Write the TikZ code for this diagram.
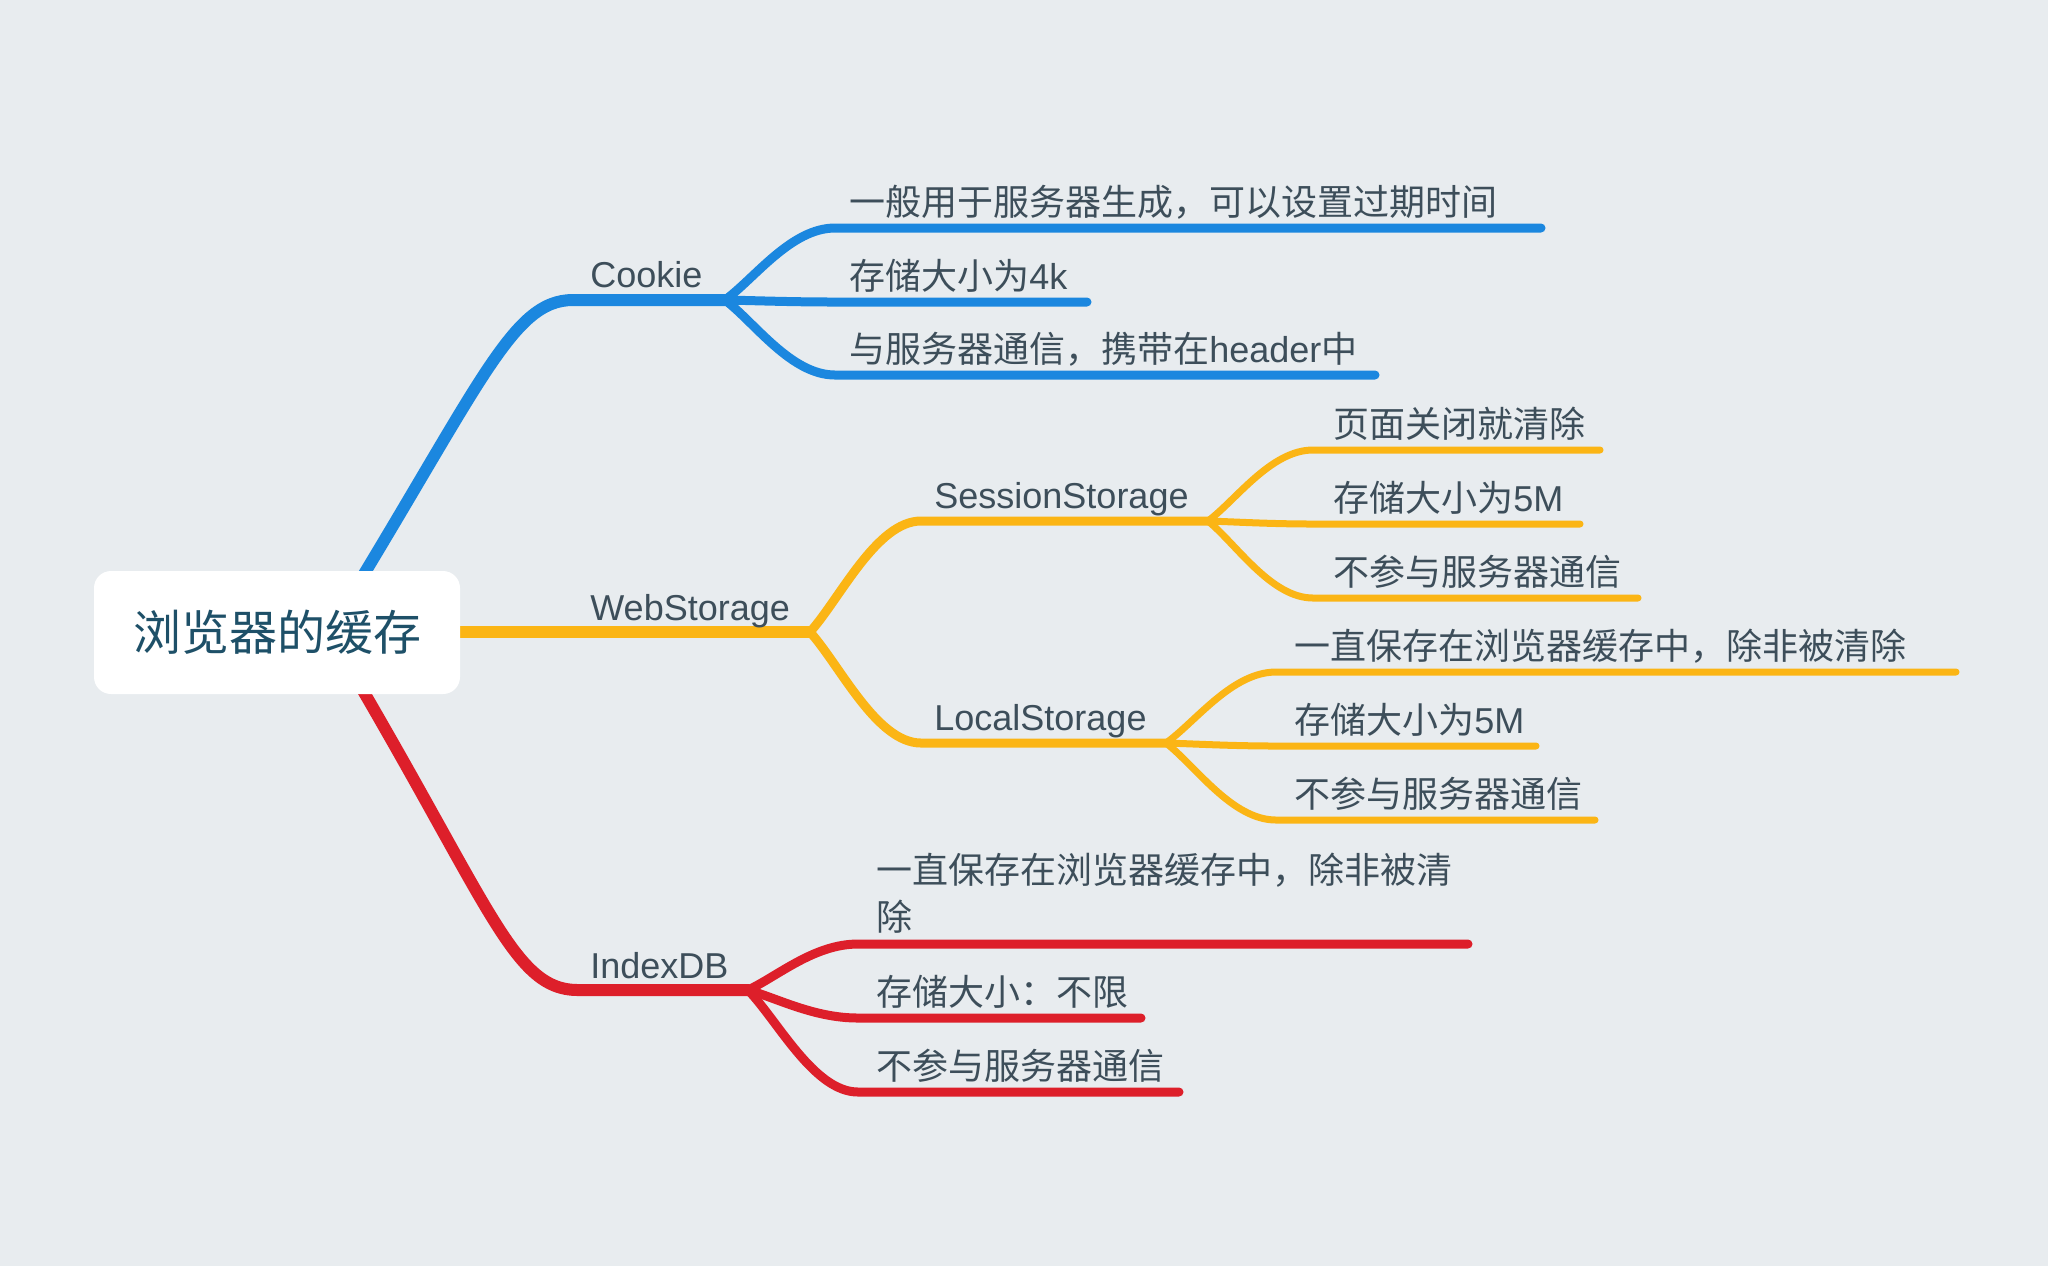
\documentclass[tikz,border=0pt]{standalone}
\usepackage{fontspec}
\setmainfont{Liberation Sans}
\newfontfamily\cjk{Noto Sans CJK SC}
\definecolor{bgc}{HTML}{E8ECEF}
\definecolor{bBlue}{HTML}{1B87DF}
\definecolor{bYel}{HTML}{FBB515}
\definecolor{bRed}{HTML}{DD1F2A}
\definecolor{txt}{HTML}{3D4E5A}
\definecolor{roottxt}{HTML}{1E5068}
% #1 style, #2 fork coordinate, #3 fx, #4 fy, #5 hx, #6 cy, #7 ex, #8 name
\newcommand\kidline[8]{%
  \pgfmathsetmacro\kdx{#5-#3}%
  \pgfmathsetmacro\kaX{#3+0.27*\kdx}%
  \pgfmathsetmacro\kaY{#4+0.3*(#6-#4)}%
  \pgfmathsetmacro\kbX{#3+0.6*\kdx}%
  \coordinate (#8h) at (#5,#6);%
  \coordinate (#8e) at (#7,#6);%
  \draw[#1] (#2) .. controls (\kaX,\kaY) and (\kbX,#6) .. (#8h) -- (#8e);%
}
\begin{document}
\begin{tikzpicture}[x=0.5pt,y=-0.5pt,line cap=round,line join=round,
  lone/.style={line width=6pt},
  ltwo/.style={line width=4.5pt},
  lthree/.style={line width=3.5pt},
  lbl/.style={anchor=base west,inner sep=0pt,text=txt,font=\fontsize{18}{22}\selectfont},
  cj/.style={anchor=base west,inner sep=0pt,text=txt,font=\cjk\fontsize{18}{22}\selectfont},
  rootbox/.style={fill=white,rounded corners=8.5pt,minimum width=183pt,minimum height=61.5pt,
    text=roottxt,font=\cjk\fontsize{24}{28}\selectfont,inner sep=0pt}]
\fill[bgc] (0,0) rectangle (2048,1266);
\useasboundingbox (0,0) rectangle (2048,1266);

% main branch coordinates
\coordinate (bS) at (320,646);
\coordinate (cA) at (573,300);
\coordinate (cF) at (725,300);
\coordinate (wS) at (300,632);
\coordinate (wF) at (810,632);
\coordinate (rS) at (320,618);
\coordinate (iA) at (578,990);
\coordinate (iF) at (748,990);

% level 1 branches
\draw[lone,bBlue] (bS) .. controls (480,388) and (510,300) .. (cA) -- (cF);
\draw[lone,bYel] (wS) -- (wF);
\draw[lone,bRed] (rS) .. controls (490,900) and (510,990) .. (iA) -- (iF);

% Cookie children
\kidline{ltwo,bBlue}{cF}{725}{300}{835}{228}{1541}{c1}
\kidline{ltwo,bBlue}{cF}{725}{300}{835}{302}{1087}{c2}
\kidline{ltwo,bBlue}{cF}{725}{300}{835}{375}{1375}{c3}

% WebStorage children
\kidline{ltwo,bYel}{wF}{810}{632}{921}{521}{1208}{ss}
\kidline{ltwo,bYel}{wF}{810}{632}{921}{743}{1166}{ls}

% SessionStorage children
\kidline{lthree,bYel}{sse}{1208}{521}{1313}{450}{1600}{s1}
\kidline{lthree,bYel}{sse}{1208}{521}{1313}{524}{1580}{s2}
\kidline{lthree,bYel}{sse}{1208}{521}{1313}{598}{1638}{s3}

% LocalStorage children
\kidline{lthree,bYel}{lse}{1166}{743}{1276}{672}{1956}{l1}
\kidline{lthree,bYel}{lse}{1166}{743}{1276}{746}{1536}{l2}
\kidline{lthree,bYel}{lse}{1166}{743}{1276}{820}{1595}{l3}

% IndexDB children
\kidline{ltwo,bRed}{iF}{748}{990}{858}{944}{1468}{i1}
\kidline{ltwo,bRed}{iF}{748}{990}{858}{1018}{1141}{i2}
\kidline{ltwo,bRed}{iF}{748}{990}{858}{1092}{1179}{i3}

% root
\node[rootbox] (root) at (277,632.5) {浏览器的缓存};

% labels
\node[lbl] (cookie) at (590,287) {Cookie};
\node[lbl] (web) at (590,620) {WebStorage};
\node[lbl] (idb) at (590,978) {IndexDB};
\node[lbl] (sess) at (934,508) {SessionStorage};
\node[lbl] (loc) at (934,730) {LocalStorage};

\node[cj] (tc1) at (849,215) {一般用于服务器生成，可以设置过期时间};
\node[cj] (tc2) at (849,289) {存储大小为{\fontspec{Liberation Sans}4k}};
\node[cj] (tc3) at (849,362) {与服务器通信，携带在{\fontspec{Liberation Sans}header}中};

\node[cj] (ts1) at (1333,437) {页面关闭就清除};
\node[cj] (ts2) at (1333,511) {存储大小为{\fontspec{Liberation Sans}5M}};
\node[cj] (ts3) at (1333,585) {不参与服务器通信};

\node[cj] (tl1) at (1294,659) {一直保存在浏览器缓存中，除非被清除};
\node[cj] (tl2) at (1294,733) {存储大小为{\fontspec{Liberation Sans}5M}};
\node[cj] (tl3) at (1294,807) {不参与服务器通信};

\node[cj,align=left,anchor=south west,font=\cjk\fontsize{18}{23.5}\selectfont] (ti1) at (876,934)
  {一直保存在浏览器缓存中，除非被清\\除};
\node[cj] (ti2) at (876,1005) {存储大小：不限};
\node[cj] (ti3) at (876,1079) {不参与服务器通信};
\end{tikzpicture}
\end{document}
